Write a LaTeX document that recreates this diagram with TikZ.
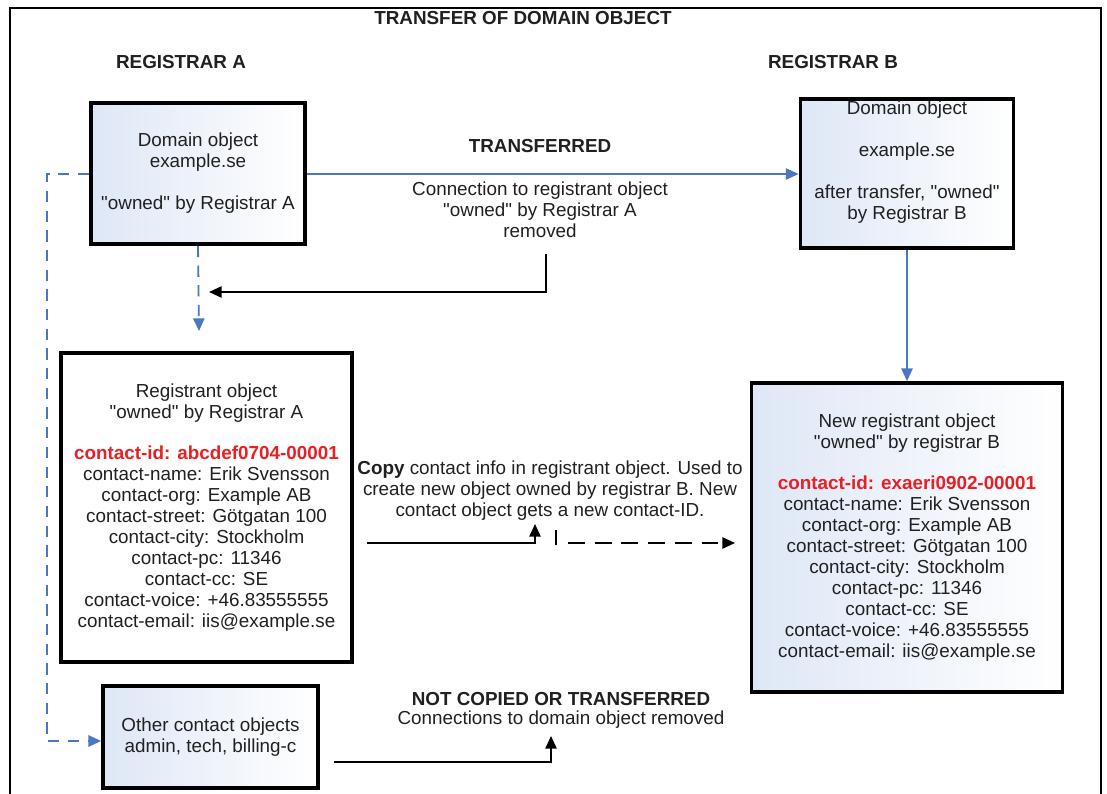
\documentclass[tikz,border=0pt]{standalone}
\usepackage{fontspec}
\setmainfont{Liberation Sans}[Ligatures=TeXOff]
\usetikzlibrary{positioning, arrows.meta, calc}

\definecolor{linkblue}{RGB}{74,120,192}
\definecolor{boxblue}{RGB}{222,231,246}
\definecolor{idred}{RGB}{232,32,36}
\definecolor{txtgray}{RGB}{32,32,32}

\begin{document}
\begin{tikzpicture}[
    x=0.025cm, y=-0.025cm,
    every node/.style={font=\fontsize{13.4}{14.9}\selectfont, text=txtgray},
    obj/.style={rectangle, draw=black, line width=2.6pt, left color=boxblue, right color=white, align=center, inner sep=0pt},
    heading/.style={font=\bfseries\fontsize{13.4}{15}\selectfont},
    txt/.style={align=center},
    bluearrow/.style={-{Triangle[length=9pt, width=8pt]}, linkblue, line width=1.1pt},
    bluedash/.style={bluearrow, line width=1.3pt, dash pattern=on 8pt off 6pt},
    blackarrow/.style={-{Triangle[length=9pt, width=8pt]}, black, line width=1.4pt},
    blackdash/.style={blackarrow, dash pattern=on 12pt off 7pt}
]
\useasboundingbox (0,0) rectangle (1107,794);

% Frame
\draw[line width=1.8pt] (10,800) -- (10,8) -- (1101,8) -- (1101,800);

% Headings
\node[heading] (title) at (523,18) {TRANSFER OF DOMAIN OBJECT};
\node[heading] (regA) at (181,62) {REGISTRAR A};
\node[heading] (regB) at (833,62) {REGISTRAR B};

% Objects
\node[obj, minimum width=5.35cm, minimum height=3.525cm] (domA) at (198,173.5)
    {Domain object\\example.se\\[14.9pt]"owned" by Registrar A};
\node[obj, minimum width=5.325cm, minimum height=3.725cm] (domB) at (907,173.5) {};
\node[txt] (domBtxt) at (907,162.5)
    {Domain object\\[14.9pt]example.se\\[14.9pt]after transfer, "owned"\\by Registrar B};
\node[obj, left color=white, minimum width=7.275cm, minimum height=7.725cm] (regobjA) at (206.5,507.5)
    {Registrant object\\"owned" by Registrar A\\[14.9pt]
     \textcolor{idred}{\bfseries contact-id: abcdef0704-00001}\\
     contact-name: Erik Svensson\\contact-org: Example AB\\contact-street: Götgatan 100\\
     contact-city: Stockholm\\contact-pc: 11346\\contact-cc: SE\\
     contact-voice: +46.83555555\\contact-email: iis@example.se};
\node[obj, minimum width=7.775cm, minimum height=7.725cm] (regobjB) at (907,537.5)
    {New registrant object\\"owned" by registrar B\\[14.9pt]
     \textcolor{idred}{\bfseries contact-id: exaeri0902-00001}\\
     contact-name: Erik Svensson\\contact-org: Example AB\\contact-street: Götgatan 100\\
     contact-city: Stockholm\\contact-pc: 11346\\contact-cc: SE\\
     contact-voice: +46.83555555\\contact-email: iis@example.se};
\node[obj, minimum width=5.375cm, minimum height=2.55cm] (others) at (210.5,737)
    {Other contact objects\\admin, tech, billing-c};

% Notes
\node[heading] (transferred) at (540,146) {TRANSFERRED};
\node[txt] (connnote) at (540,209.5) {Connection to registrant object\\"owned" by Registrar A\\removed};
\node[txt] (copynote) at (550,490.5) {\textbf{Copy} contact info in registrant object. Used to\\
    create new object owned by registrar B. New\\contact object gets a new contact-ID.};
\node[heading] (notcopied) at (561,699) {NOT COPIED OR TRANSFERRED};
\node[txt] (removednote) at (561,720) {Connections to domain object removed};

% Free ends
\coordinate (dashend) at (199,331);
\coordinate (cutstart) at (546,254);
\coordinate (cutend) at (209,292);
\coordinate (copystart) at (367,543);
\coordinate (copyup) at (535,524);
\coordinate (ticktop) at (556,530);
\coordinate (tickbot) at (556,545);
\coordinate (newstart) at (568,543);
\coordinate (newend) at (735,543);
\coordinate (otherstart) at (334,762);
\coordinate (otherup) at (551,736);

% Blue connectors
\draw[bluearrow] (domA.east |- 0,174) -- (domB.west |- 0,174);
\draw[bluearrow] (domB.south) -- (domB.south |- regobjB.north);
\draw[bluedash] (domA.south) -- (dashend);
\draw[bluedash] (domA.west |- 0,174) -| (47,741) -- (others.west |- 0,741);

% Black connectors
\draw[blackarrow] (cutstart) |- (cutend);
\draw[blackarrow] (copystart) -| (copyup);
\draw[line width=1.4pt] (ticktop) -- (tickbot);
\draw[blackdash] (newstart) -- (newend);
\draw[blackarrow] (otherstart) -| (otherup);

\end{tikzpicture}
\end{document}
